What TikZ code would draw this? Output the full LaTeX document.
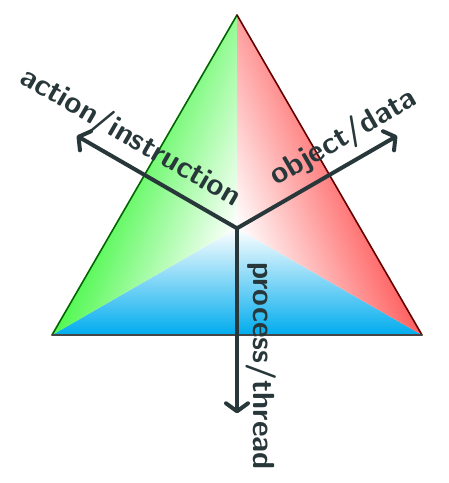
\documentclass[tikz,border=0pt]{standalone}
\usetikzlibrary{arrows.meta}
\definecolor{ink}{RGB}{40,55,58}
\definecolor{gr}{RGB}{80,248,80}
\definecolor{rd}{RGB}{255,95,95}
\definecolor{cy}{RGB}{0,172,238}
\tikzset{
  axisarrow/.style={ink, line width=4pt, line cap=round,
    -{Straight Barb[length=8pt,width=22pt,round,line width=4pt]}},
  axislabel/.style={ink, font=\fontsize{30.5}{31}\selectfont\sffamily\bfseries, inner sep=0pt}
}
\begin{document}
\begin{tikzpicture}[x=1pt,y=1pt]
\useasboundingbox (0,0) rectangle (449,483);
\coordinate (A) at (237,468);
\coordinate (L) at (52,148);
\coordinate (R) at (422,148);
\coordinate (C) at (237,254.7);
% bottom region
\shade[top color=white, bottom color=cy] (L) -- (C) -- (R) -- cycle;
% left region: linear gradient, white at C, green at L, axis tilted 22 deg
\begin{scope}
  \clip (A) -- (C) -- (L) -- cycle;
  \begin{scope}[transform canvas={rotate around={-112:(C)}}]
    \shade[top color=white, bottom color=gr] ([xshift=-300pt]C) rectangle ([xshift=300pt,yshift=-131.5pt]C);
    \fill[gr] ([xshift=-300pt,yshift=-131pt]C) rectangle ([xshift=300pt,yshift=-450pt]C);
  \end{scope}
\end{scope}
% right region
\begin{scope}
  \clip (A) -- (C) -- (R) -- cycle;
  \begin{scope}[transform canvas={rotate around={112:(C)}}]
    \shade[top color=white, bottom color=rd] ([xshift=-300pt]C) rectangle ([xshift=300pt,yshift=-131.5pt]C);
    \fill[rd] ([xshift=-300pt,yshift=-131pt]C) rectangle ([xshift=300pt,yshift=-450pt]C);
  \end{scope}
\end{scope}
% outline
\draw[green!40!black, line width=1.6pt, line cap=round] (L) -- (A);
\draw[red!40!black, line width=1.6pt, line cap=round] (A) -- (R);
\draw[gray!55!black, line width=1.6pt, line cap=round] (L) -- (R);
% axes
\coordinate (T1) at (76.8,347.2);
\coordinate (T2) at (397.2,347.2);
\coordinate (T3) at (237,69.7);
\draw[axisarrow] (C) -- (T1);
\draw[axisarrow] (C) -- (T2);
\draw[axisarrow] (C) -- (T3);
\node[axislabel, rotate=-30] (la) at (130,345) {action/instruction};
\node[axislabel, rotate=30] (lo) at (344,345) {object/data};
\node[axislabel, rotate=-90] (lp) at (261,117) {process/thread};
\end{tikzpicture}
\end{document}
